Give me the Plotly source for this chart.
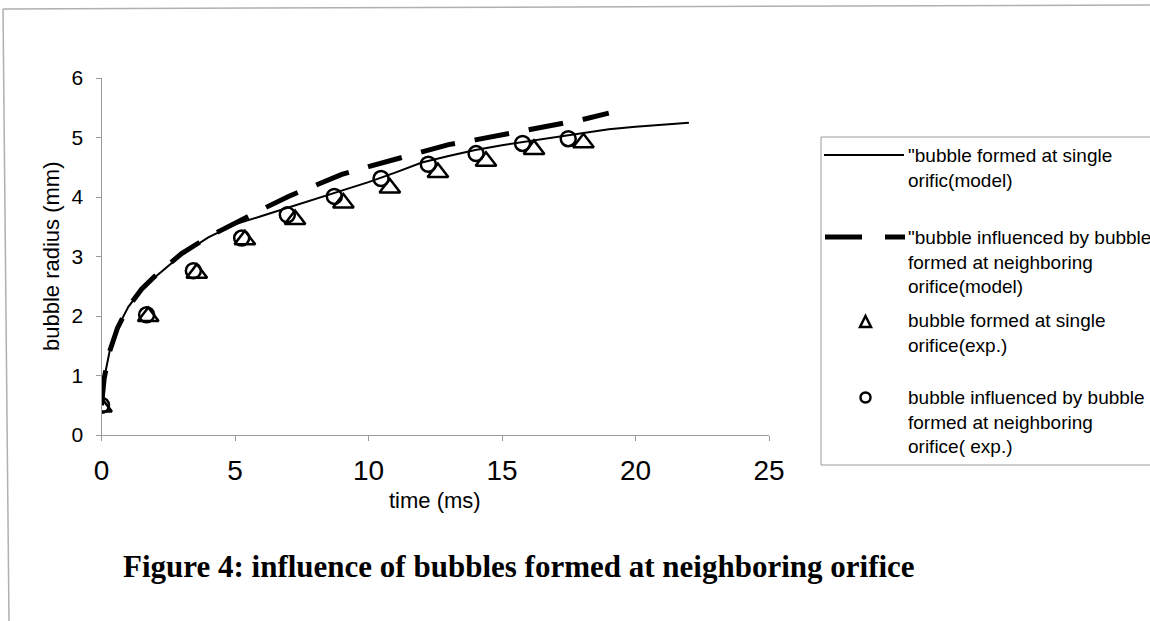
import plotly.graph_objects as go

W, H = 1150, 621

# ---- data ----
t_single_model = [0, 0.1, 0.3, 0.6, 1.0, 1.5, 2, 3, 4, 5, 6, 7, 8, 9, 10, 11, 12, 13, 14, 15, 16, 17, 18, 19, 20, 21, 22]
r_single_model = [0.5, 0.95, 1.4, 1.8, 2.15, 2.45, 2.65, 3.03, 3.32, 3.54, 3.68, 3.82, 3.96, 4.11, 4.25, 4.41, 4.58, 4.69, 4.79, 4.87, 4.94, 5.01, 5.07, 5.14, 5.18, 5.22, 5.25]

t_neigh_model = [0, 0.1, 0.3, 0.6, 1, 1.5, 2, 3, 4, 5, 6, 7, 8, 9, 10, 11, 12, 13, 14, 15, 16, 17, 18, 19]
r_neigh_model = [0.5, 0.95, 1.4, 1.8, 2.15, 2.45, 2.67, 3.05, 3.33, 3.57, 3.79, 4.01, 4.19, 4.38, 4.51, 4.64, 4.77, 4.88, 4.96, 5.04, 5.13, 5.22, 5.30, 5.41]

t_single_exp = [0, 1.75, 3.57, 5.37, 7.25, 9.06, 10.8, 12.6, 14.4, 16.2, 18.05]
r_single_exp = [0.47, 1.99, 2.72, 3.28, 3.62, 3.90, 4.15, 4.41, 4.60, 4.80, 4.91]

t_neigh_exp = [0, 1.69, 3.44, 5.25, 6.96, 8.72, 10.47, 12.24, 14.03, 15.77, 17.48]
r_neigh_exp = [0.5, 2.02, 2.76, 3.31, 3.70, 4.01, 4.31, 4.55, 4.73, 4.90, 4.98]

x_ticks = [0, 5, 10, 15, 20, 25]
y_ticks = [0, 1, 2, 3, 4, 5, 6]

legend_labels = [
    '"bubble formed at single<br>orific(model)',
    '"bubble influenced by bubble<br>formed at neighboring<br>orifice(model)',
    'bubble formed at single<br>orifice(exp.)',
    'bubble influenced by bubble<br>formed at neighboring<br>orifice( exp.)',
]
title_text = "Figure 4: influence of bubbles formed at neighboring orifice"

SANS = "Liberation Sans, Arial, sans-serif"
SERIF = "Liberation Serif, Times New Roman, serif"


def px(x):
    return x / W


def py(y):
    return 1 - y / H


fig = go.Figure()
fig.add_trace(go.Scatter(x=t_single_model, y=r_single_model, mode="lines",
                         line=dict(color="black", width=2), name="single model"))
fig.add_trace(go.Scatter(x=t_neigh_model, y=r_neigh_model, mode="lines",
                         line=dict(color="black", width=5, dash="35px,20px"), name="neigh model"))
fig.add_trace(go.Scatter(x=t_single_exp, y=r_single_exp, mode="markers",
                         marker=dict(symbol="triangle-up-open", size=18, color="black",
                                     line=dict(width=2.5, color="black")), name="single exp"))
fig.add_trace(go.Scatter(x=t_neigh_exp, y=r_neigh_exp, mode="markers",
                         marker=dict(symbol="circle-open", size=15, color="black",
                                     line=dict(width=2.5, color="black")), name="neigh exp"))

axis_common = dict(showgrid=False, zeroline=False, showline=True, linecolor="#9a9a9a",
                   linewidth=1, ticks="outside", ticklen=5, tickcolor="#9a9a9a", tickwidth=1,
                   automargin=False)

fig.update_layout(
    width=W, height=H,
    margin=dict(l=0, r=0, t=0, b=0),
    paper_bgcolor="white", plot_bgcolor="white",
    showlegend=False,
    font=dict(family=SANS, color="black"),
    xaxis=dict(range=[0, 25], domain=[px(101.5), px(769)], tickvals=x_ticks,
               tickfont=dict(size=28, family=SANS, color="black"), ticklabelstandoff=5,
               **axis_common),
    yaxis=dict(range=[0, 6], domain=[py(435), py(78)], tickvals=y_ticks,
               tickfont=dict(size=21, family=SANS, color="black"), ticklabelstandoff=8,
               **axis_common),
)

shapes = []
annotations = []

# page border lines (scan edge)
shapes.append(dict(type="line", xref="paper", yref="paper", x0=px(3), y0=py(9), x1=px(1150), y1=py(5),
                   line=dict(color="#b0b0b0", width=1.5)))
shapes.append(dict(type="line", xref="paper", yref="paper", x0=px(3), y0=py(9), x1=px(9), y1=py(621),
                   line=dict(color="#b0b0b0", width=1.5)))

# legend box
shapes.append(dict(type="rect", xref="paper", yref="paper", x0=px(821), y0=py(465), x1=px(1165), y1=py(137),
                   line=dict(color="#9a9a9a", width=1)))
# legend symbols
shapes.append(dict(type="line", xref="paper", yref="paper", x0=px(824), y0=py(155), x1=px(904), y1=py(155),
                   line=dict(color="black", width=2)))
shapes.append(dict(type="line", xref="paper", yref="paper", x0=px(825), y0=py(237), x1=px(862), y1=py(237),
                   line=dict(color="black", width=5)))
shapes.append(dict(type="line", xref="paper", yref="paper", x0=px(885), y0=py(237), x1=px(905), y1=py(237),
                   line=dict(color="black", width=5)))
tri_path = "M {:.5f},{:.5f} L {:.5f},{:.5f} L {:.5f},{:.5f} Z".format(
    px(860), py(327), px(871), py(327), px(865.5), py(316))
shapes.append(dict(type="path", xref="paper", yref="paper", path=tri_path,
                   line=dict(color="black", width=2.5)))
shapes.append(dict(type="circle", xref="paper", yref="paper", x0=px(860.5), y0=py(402.5), x1=px(870.5), y1=py(392.5),
                   line=dict(color="black", width=2.5)))

legend_y = [155, 237, 320, 397]
for lab, yy in zip(legend_labels, legend_y):
    annotations.append(dict(text=lab, xref="paper", yref="paper", x=px(906), y=py(yy - 12),
                            xanchor="left", yanchor="top", align="left", showarrow=False,
                            font=dict(size=19, family=SANS, color="black")))

# axis titles
annotations.append(dict(text="time (ms)", xref="paper", yref="paper", x=px(435), y=py(500),
                        xanchor="center", yanchor="middle", showarrow=False,
                        font=dict(size=22, family=SANS, color="black")))
annotations.append(dict(text="bubble radius (mm)", xref="paper", yref="paper", x=px(51), y=py(256),
                        xanchor="center", yanchor="middle", showarrow=False, textangle=-90,
                        font=dict(size=22, family=SANS, color="black")))
# figure caption
annotations.append(dict(text="<b>" + title_text + "</b>", xref="paper", yref="paper", x=px(519), y=py(566),
                        xanchor="center", yanchor="middle", showarrow=False,
                        font=dict(size=31, family=SERIF, color="black")))

fig.update_layout(shapes=shapes, annotations=annotations)
fig.write_html("out.html", config={"displayModeBar": False},
               post_script="document.body.style.margin='0';document.body.style.overflow='hidden';")
